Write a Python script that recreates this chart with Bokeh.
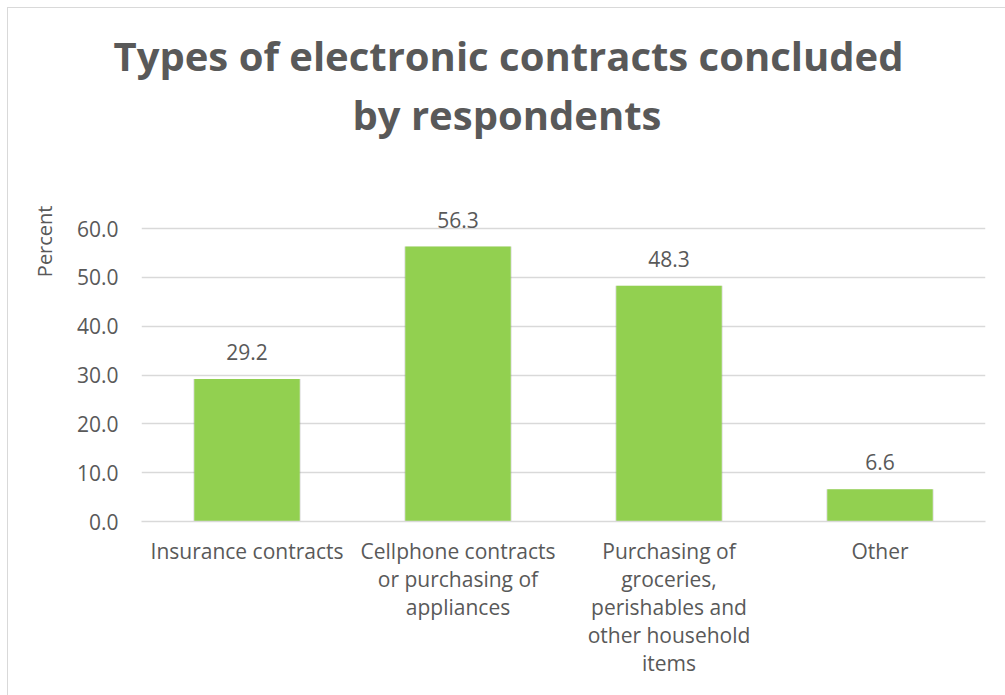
from bokeh.plotting import figure
from bokeh.models import (ColumnDataSource, LabelSet, Range1d, FactorRange, Title,
                          SingleIntervalTicker, NumeralTickFormatter)
from bokeh.core.properties import value
from bokeh.embed import file_html
from bokeh.resources import INLINE

# ---- data ----
categories = [
    "Insurance contracts",
    "Cellphone contracts\nor purchasing of\nappliances",
    "Purchasing of\ngroceries,\nperishables and\nother household\nitems",
    "Other",
]
values = [29.2, 56.3, 48.3, 6.6]
value_labels = ["29.2", "56.3", "48.3", "6.6"]
title_lines = ["Types of electronic contracts concluded", "by respondents"]
y_title = "Percent"

TXT = "#595959"
GRID = "#D9D9D9"
BAR = "#92D050"
FONT = "Open Sans"

p = figure(
    width=998, height=688, title=None,
    x_range=FactorRange(*categories, range_padding=0),
    y_range=Range1d(0, 68),
    output_backend="svg", toolbar_location=None,
    min_border_left=133, min_border_right=21,
    min_border_top=181, min_border_bottom=175,
)
p.styles = {"margin-left": "7px", "margin-top": "7px",
            "border-left": "1px solid #D9D9D9", "border-top": "1px solid #D9D9D9"}
p.outline_line_color = None
p.background_fill_color = "white"
p.border_fill_color = "white"

# spacer between frame and title, then the two title lines (outward order)
p.add_layout(Title(text=" ", text_font_size="1px", standoff=44), "above")
p.add_layout(Title(text=title_lines[1], align="left", offset=211, text_font=FONT,
                   text_font_style="bold", text_font_size="40px", text_color=TXT,
                   standoff=2), "above")
p.add_layout(Title(text=title_lines[0], align="left", offset=-28, text_font=FONT,
                   text_font_style="bold", text_font_size="40px", text_color=TXT,
                   standoff=1), "above")
p.add_layout(Title(text=y_title, align="right", offset=16, text_font=FONT,
                   text_font_style="normal", text_font_size="20px", text_color=TXT,
                   standoff=31), "left")

src = ColumnDataSource(dict(cat=categories, val=values, lab=value_labels))

# soft shadow then bar
p.vbar(x="cat", top="val", width=0.512, source=src, fill_color="#7f7f7f", fill_alpha=0.16, line_color=None)
p.vbar(x="cat", top="val", width=0.5, source=src, fill_color=BAR, line_color=None)

labels = LabelSet(x="cat", y="val", text="lab", source=src, y_offset=19,
                  text_align="center", text_baseline="alphabetic",
                  text_font=value(FONT), text_font_size="21px", text_color=TXT)
p.add_layout(labels)

# axes
p.yaxis.ticker = SingleIntervalTicker(interval=10)
p.yaxis.formatter = NumeralTickFormatter(format="0.0")
p.yaxis.axis_line_color = None
p.yaxis.major_tick_line_color = None
p.yaxis.minor_tick_line_color = None
p.yaxis.major_label_text_font = FONT
p.yaxis.major_label_text_font_size = "21px"
p.yaxis.major_label_text_color = TXT
p.yaxis.major_label_standoff = 17

p.xaxis.axis_line_color = GRID
p.xaxis.axis_line_width = 1.5
p.xaxis.major_tick_line_color = None
p.xaxis.minor_tick_line_color = None
p.xaxis.major_label_text_font = FONT
p.xaxis.major_label_text_font_size = "21px"
p.xaxis.major_label_text_color = TXT
p.xaxis.major_label_text_line_height = 1.0
p.xaxis.major_label_standoff = 9
p.xaxis.major_label_orientation = "horizontal"

p.xgrid.grid_line_color = None
p.ygrid.grid_line_color = GRID
p.ygrid.grid_line_width = 1.5

open("out.html", "w").write(file_html(p, INLINE))
